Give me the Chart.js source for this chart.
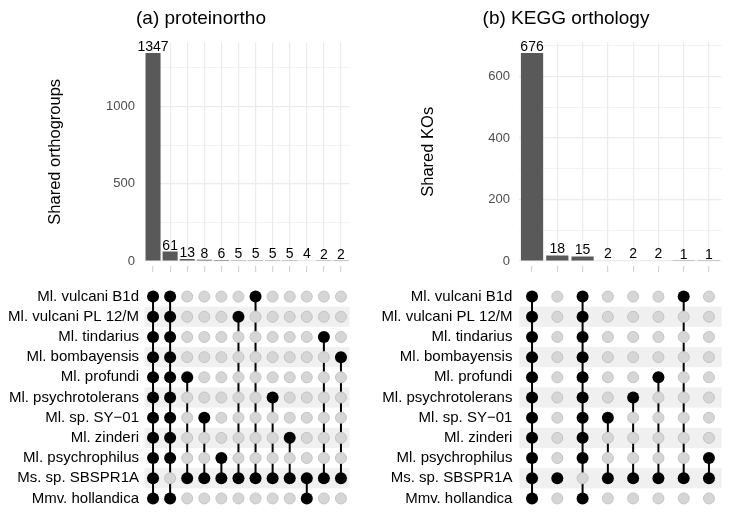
<!DOCTYPE html>
<html>
<head>
<meta charset="utf-8">
<script src="https://cdn.jsdelivr.net/npm/chart.js@4"></script>
<style>
  body { margin: 0; background: #fff; font-family: 'Liberation Sans', Arial, sans-serif; }
  #wrap { position: relative; width: 738px; height: 515px; overflow: hidden; }
  canvas { position: absolute; }
  .title { position: absolute; top: 6px; font-size: 19px; line-height: 24px; color: #000; white-space: nowrap; transform: translateX(-50%); }
</style>
</head>
<body>
<div id="wrap">
  <canvas id="barA" width="369" height="280" style="left:0;top:0"></canvas>
  <canvas id="barB" width="369" height="280" style="left:369px;top:0"></canvas>
  <canvas id="matA" width="369" height="235" style="left:0;top:280px"></canvas>
  <canvas id="matB" width="369" height="235" style="left:369px;top:280px"></canvas>
  <div class="title" style="left:201px">(a) proteinortho</div>
  <div class="title" style="left:566px">(b) KEGG orthology</div>
</div>
<script>
Chart.defaults.font.family = "'Liberation Sans', Arial, sans-serif";

const species = ['Ml. vulcani B1d', 'Ml. vulcani PL 12/M', 'Ml. tindarius', 'Ml. bombayensis',
  'Ml. profundi', 'Ml. psychrotolerans', 'Ml. sp. SY\u221201', 'Ml. zinderi',
  'Ml. psychrophilus', 'Ms. sp. SBSPR1A', 'Mmv. hollandica'];

// (a) proteinortho: intersection sizes and member rows (index into species)
const countsA = [1347, 61, 13, 8, 6, 5, 5, 5, 5, 4, 2, 2];
const setsA = [
  [0, 1, 2, 3, 4, 5, 6, 7, 8, 9, 10],
  [0, 1, 2, 3, 4, 5, 6, 7, 8, 10],
  [4, 9], [6, 9], [8, 9], [1, 9], [0, 9], [5, 9], [7, 9], [9, 10], [2, 9], [3, 9]
];
const gridA = [0, 250, 500, 750, 1000, 1250];
const labelsA = [0, 500, 1000];

// (b) KEGG orthology
const countsB = [676, 18, 15, 2, 2, 2, 1, 1];
const setsB = [
  [0, 1, 2, 3, 4, 5, 6, 7, 8, 9, 10],
  [9],
  [0, 1, 2, 3, 4, 5, 6, 7, 8, 10],
  [6, 9], [5, 9], [4, 9], [0, 9], [8, 9]
];
const gridB = [0, 100, 200, 300, 400, 500, 600, 700];
const labelsB = [0, 200, 400, 600];

const barLabels = {
  id: 'barLabels',
  afterDatasetsDraw(chart) {
    const ctx = chart.ctx;
    const vals = chart.data.datasets[0].data;
    ctx.save();
    ctx.font = "14px 'Liberation Sans', Arial, sans-serif";
    ctx.fillStyle = '#000';
    ctx.textAlign = 'center';
    ctx.textBaseline = 'alphabetic';
    chart.getDatasetMeta(0).data.forEach((bar, i) => ctx.fillText(vals[i], bar.x, bar.y - 2));
    ctx.restore();
  }
};

const stripes = {
  id: 'stripes',
  beforeDatasetsDraw(chart) {
    const { ctx, chartArea: a, scales: { y } } = chart;
    ctx.save();
    ctx.fillStyle = '#f0f0f0';
    species.forEach((s, i) => {
      if (i % 2 === 1) {
        const t = y.getPixelForValue(i - 0.5), b = y.getPixelForValue(i + 0.5);
        ctx.fillRect(a.left, t, a.right - a.left, b - t);
      }
    });
    ctx.restore();
  }
};

function barChart(id, counts, yMax, grid, labels, title, padL, yW, padR) {
  new Chart(document.getElementById(id), {
    type: 'bar',
    data: {
      labels: counts.map((_, i) => String(i + 1)),
      datasets: [{ data: counts, backgroundColor: '#595959', categoryPercentage: 1, barPercentage: 0.88 }]
    },
    options: {
      responsive: false,
      animation: false,
      layout: { padding: { left: padL, right: padR, top: 42.6, bottom: 7 } },
      plugins: { legend: { display: false }, tooltip: { enabled: false } },
      scales: {
        x: {
          ticks: { display: false },
          grid: { offset: false, color: '#ebebeb', lineWidth: 1.2, tickLength: 12, tickColor: '#d4d4d4', tickBorderDash: [0, 5, 6, 20] },
          border: { display: false },
          afterFit: s => { s.height = 12; }
        },
        y: {
          min: 0,
          max: yMax,
          afterBuildTicks: s => { s.ticks = grid.map(v => ({ value: v })); },
          ticks: { callback: v => (labels.includes(v) ? v : ''), color: '#4d4d4d', font: { size: 13 }, padding: 9.5, autoSkip: false },
          grid: {
            color: '#ebebeb',
            lineWidth: c => (labels.includes(c.tick.value) ? 1.2 : 0.6),
            drawTicks: false
          },
          border: { display: false },
          title: { display: true, text: title, color: '#000', font: { size: 16.5 }, padding: 0 },
          afterFit: s => { s.width = yW; s.paddingTop = 0; s.paddingBottom = 0; }
        }
      }
    },
    plugins: [barLabels]
  });
}

function matrixChart(id, sets, yW, padR, tickPad) {
  const on = [], off = [], lines = [];
  sets.forEach((rows, c) => {
    species.forEach((s, r) => {
      (rows.includes(r) ? on : off).push({ x: c, y: r });
    });
    if (rows.length > 1) {
      lines.push({
        data: [{ x: c, y: Math.min(...rows) }, { x: c, y: Math.max(...rows) }],
        showLine: true, borderColor: '#000', borderWidth: 2, pointRadius: 0, order: 2
      });
    }
  });
  new Chart(document.getElementById(id), {
    type: 'scatter',
    data: {
      datasets: [
        { data: on, backgroundColor: '#000', borderWidth: 0, pointRadius: 6, order: 0 },
        { data: off, backgroundColor: '#d6d6d6', borderColor: '#c4c4c4', borderWidth: 1, pointRadius: 5.5, order: 1 },
        ...lines
      ]
    },
    options: {
      responsive: false,
      animation: false,
      layout: { padding: { left: 0, right: padR, top: 4.7, bottom: 3.7 } },
      plugins: { legend: { display: false }, tooltip: { enabled: false } },
      scales: {
        x: { type: 'linear', min: -0.5, max: sets.length - 0.5, display: false },
        y: {
          type: 'linear',
          min: -0.5,
          max: species.length - 0.5,
          reverse: true,
          afterBuildTicks: s => { s.ticks = species.map((_, i) => ({ value: i })); },
          ticks: { callback: v => species[v], color: '#000', font: { size: 15 }, padding: tickPad, autoSkip: false },
          grid: { display: false, drawTicks: false },
          border: { display: false },
          afterFit: s => { s.width = yW; s.paddingTop = 0; s.paddingBottom = 0; }
        }
      }
    },
    plugins: [stripes]
  });
}

barChart('barA', countsA, 1414.35, gridA, labelsA, 'Shared orthogroups', 45.1, 99.4, 19.5);
barChart('barB', countsB, 709.8, gridB, labelsB, 'Shared KOs', 49.4, 101, 16.4);
matrixChart('matA', setsA, 144.5, 19.5, 5.5);
matrixChart('matB', setsB, 150.4, 16.4, 7);
</script>
</body>
</html>
